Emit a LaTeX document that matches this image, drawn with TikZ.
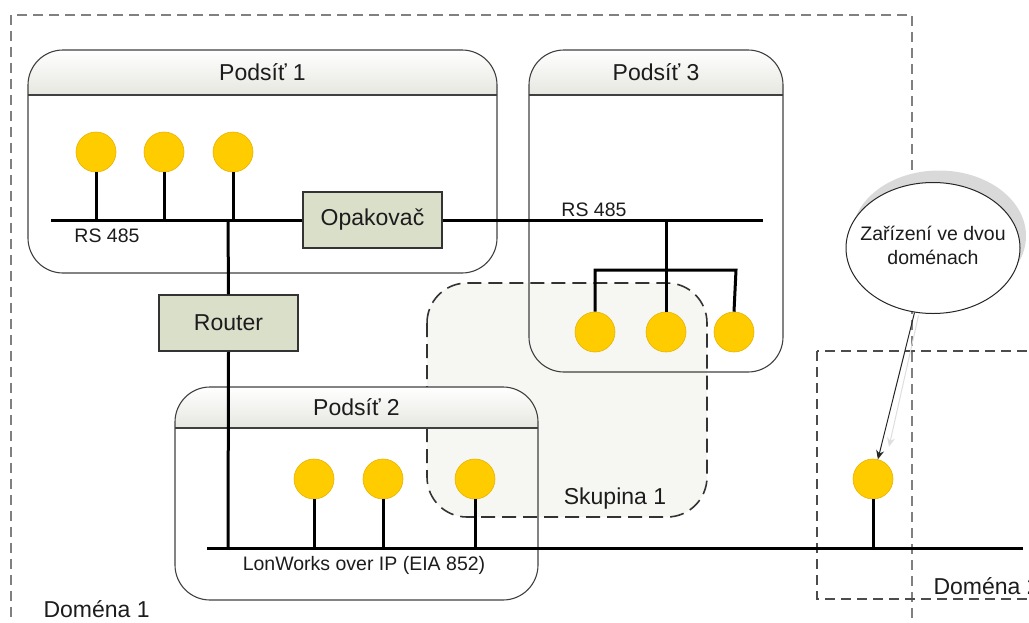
\documentclass[tikz,border=0pt]{standalone}
\usepackage{fontspec}
\setmainfont{Liberation Sans}
\usetikzlibrary{shapes.geometric,arrows.meta,shadows}

\definecolor{devyellow}{RGB}{255,204,0}
\definecolor{devedge}{RGB}{232,178,0}
\definecolor{boxgreen}{RGB}{218,223,202}
\definecolor{groupfill}{RGB}{246,247,242}
\definecolor{hdrshade}{RGB}{230,231,224}
\definecolor{txt}{RGB}{28,28,28}

\newcommand\fsTitle{\fontsize{23}{27}\selectfont}
\newcommand\fsLabel{\fontsize{19.5}{24}\selectfont}

% rounded subnet frame with a shaded header strip
% #1 name, #2 x1, #3 y1, #4 x2, #5 y2, #6 header bottom, #7 title
\newcommand\subnetframe[7]{%
  \begin{scope}
    \clip[rounded corners=35pt] (#2,#3) rectangle (#4,#5);
    \shade[top color=white,bottom color=hdrshade] (#2,#3) rectangle (#4,#6);
  \end{scope}
  \draw[frame] (#2,#3) rectangle (#4,#5);
  \draw[frameline] (#2,#6) -- (#4,#6);
  \node[title] (#1) at ({(#2+#4)/2},{(#3+#6)/2}) {#7};
}

\begin{document}
\begin{tikzpicture}[x=1pt,y=-1pt,
  every node/.style={text=txt},
  dev/.style={circle,fill=devyellow,draw=devedge,line width=0.6pt,minimum size=40pt,inner sep=0pt},
  bus/.style={line width=3pt,draw=black},
  stem/.style={line width=3pt,draw=black},
  unitbox/.style={draw=black!80,fill=boxgreen,line width=1.5pt,minimum width=139pt,minimum height=56pt,inner sep=0pt,font=\fsTitle},
  frame/.style={draw=black!75,line width=1.1pt,rounded corners=35pt},
  frameline/.style={draw=black!75,line width=1.4pt},
  title/.style={font=\fsTitle},
  small/.style={font=\fsLabel},
  domainA/.style={draw=black!50,line width=1.3pt,dash pattern=on 10pt off 6pt},
  domainB/.style={draw=black!70,line width=1.4pt,dash pattern=on 10pt off 6pt},
  group/.style={draw=black!80,fill=groupfill,line width=1.6pt,dash pattern=on 14pt off 7pt,rounded corners=40pt},
  callout/.style={ellipse,draw=black!85,fill=white,line width=1pt,minimum width=174pt,minimum height=131pt,inner sep=0pt,
    drop shadow={shadow xshift=6pt,shadow yshift=12pt,fill=black!15,opacity=1}},
  pointer/.style={-{Stealth[length=9pt,width=8pt,inset=3pt]},line width=1pt,draw=black!85},
  pointershade/.style={-{Stealth[length=9pt,width=8pt,inset=3pt]},line width=1pt,draw=black!13},
]
\useasboundingbox (0,0) rectangle (1029,622);

% domains
\draw[domainA] (11,15) rectangle (912,650);
\draw[domainB] (817,351) rectangle (1050,599);

% group of devices
\draw[group] (427,283) rectangle (707,517);

% subnets
\subnetframe{p1}{28}{50}{497}{273}{95}{Podsíť 1}
\subnetframe{p3}{529}{50}{783}{372}{95}{Podsíť 3}
\subnetframe{p2}{175}{387}{538}{600}{428}{Podsíť 2}

% bus end points and junctions
\coordinate (b1w) at (51,220);
\coordinate (b1e) at (763,220);
\coordinate (b2w) at (207,548);
\coordinate (b2e) at (1023,548);
\coordinate (tap) at (228,220);
\coordinate (t3) at (666,220);
\coordinate (barw) at (595,270);
\coordinate (bare) at (736,270);

% repeater and router
\node[unitbox] (rep) at (372.5,220) {Opakovač};
\node[unitbox] (rtr) at (228.5,323) {Router};

% devices
\node[dev] (d1) at (96,152) {};
\node[dev] (d2) at (164,152) {};
\node[dev] (d3) at (233,152) {};
\node[dev] (d4) at (595,332) {};
\node[dev] (d5) at (666,332) {};
\node[dev] (d6) at (734,332) {};
\node[dev] (d8) at (314,479) {};
\node[dev] (d9) at (383,479) {};
\node[dev] (d10) at (475,479) {};
\node[dev] (d7) at (873,479) {};

% buses
\draw[bus] (b1w) -- (rep.west);
\draw[bus] (rep.east) -- (b1e);
\draw[bus] (tap) -- (rtr.north);
\draw[bus] (rtr.south) -- (tap |- b2w);
\draw[bus] (b2w) -- (b2e);

% device drops
\draw[stem] (d1.south) -- (d1 |- b1w);
\draw[stem] (d2.south) -- (d2 |- b1w);
\draw[stem] (d3.south) -- (d3 |- b1w);
\draw[stem] (t3) -- (d5.north);
\draw[stem,line join=miter] (d4.north) -- (barw) -- (bare) -- (d6.north);
\draw[stem] (d8.south) -- (d8 |- b2w);
\draw[stem] (d9.south) -- (d9 |- b2w);
\draw[stem] (d10.south) -- (d10 |- b2w);
\draw[stem] (d7.south) -- (d7 |- b2w);

% labels
\node[small] (rs1) at (107,236) {RS 485};
\node[small] (rs3) at (594,210) {RS 485};
\node[small] (lon) at (364,565) {LonWorks over IP (EIA 852)};
\node[title] (grp) at (615,499) {Skupina 1};
\node[title,anchor=west] (dom1) at (40,609) {Doména 1};
\node[title,anchor=west] (dom2) at (930,586) {Doména 2};

% callout
\node[callout] (ell) at (933,248) {};
\node[small,align=center] (elltext) at (933,245) {Zařízení ve dvou\\doménach};
\draw[pointershade] ([xshift=4pt,yshift=-3pt]ell.254) -- ([xshift=16pt,yshift=12pt]d7.north);
\draw[pointer] (ell.254) -- (d7);
\end{tikzpicture}
\end{document}
